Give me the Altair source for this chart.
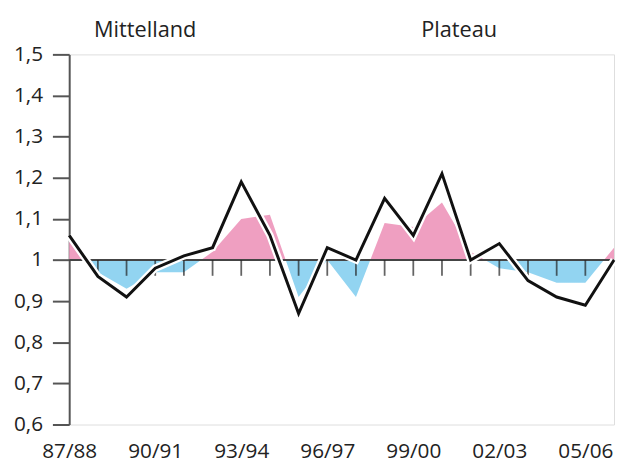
import altair as alt
import pandas as pd

seasons = ["87/88", "88/89", "89/90", "90/91", "91/92", "92/93", "93/94", "94/95",
           "95/96", "96/97", "97/98", "98/99", "99/00", "00/01", "01/02", "02/03",
           "03/04", "04/05", "05/06", "06/07"]
line_values = [1.06, 0.96, 0.91, 0.98, 1.01, 1.03, 1.19, 1.06, 0.87, 1.03,
               1.00, 1.15, 1.06, 1.21, 1.00, 1.04, 0.95, 0.91, 0.89, 1.00]
fill_values = [1.05, 0.97, 0.93, 0.97, 0.97, 1.02, 1.10, 1.11, 0.91, 1.00,
               0.91, 1.09, 1.08, 1.14, 1.02, 0.98, 0.97, 0.945, 0.945, 1.03]
label_seasons = seasons[::3]
y_ticks = [0.6, 0.7, 0.8, 0.9, 1.0, 1.1, 1.2, 1.3, 1.4, 1.5]
titles = ["Mittelland", "Plateau"]
title_x = [77, 395]
baseline = 1.0

PINK = "#ef9fc1"
BLUE = "#92d4f1"
AXIS = "#555555"
FONT = "Open Sans"

df = pd.DataFrame({"season": seasons, "line": line_values, "fill": fill_values, "base": baseline})
tick_df = pd.DataFrame({"season": seasons[1:-1], "base": baseline})
title_df = pd.DataFrame({"t": titles, "px": title_x})

top = max(max(fill_values), baseline)
bot = min(min(fill_values), baseline)
off = (top - baseline) / (top - bot)

x = alt.X("season:N", sort=seasons,
          scale=alt.Scale(type="point", padding=0),
          axis=alt.Axis(values=label_seasons, title=None, domain=False, ticks=False,
                        labelAngle=0, labelFontSize=21, labelFont=FONT, labelColor="#222",
                        labelPadding=16))
yscale = alt.Scale(domain=[0.6, 1.5], nice=False, zero=False)
y_axis = alt.Axis(values=y_ticks, title=None, grid=False, tickSize=17, tickWidth=2,
                  tickColor=AXIS, domainColor=AXIS, domainWidth=2,
                  labelExpr="replace(format(datum.value, '.1~f'), '.', ',')",
                  labelFontSize=21, labelFont=FONT, labelColor="#222", labelPadding=10)

area = alt.Chart(df).mark_area(
    color=alt.LinearGradient(
        gradient="linear", x1=0, x2=0, y1=0, y2=1,
        stops=[alt.GradientStop(color=PINK, offset=0),
               alt.GradientStop(color=PINK, offset=off),
               alt.GradientStop(color=BLUE, offset=off),
               alt.GradientStop(color=BLUE, offset=1)]),
    opacity=1
).encode(x=x, y=alt.Y("fill:Q", scale=yscale, axis=y_axis), y2="base:Q")

base_rule = alt.Chart(df).mark_rule(color="#444", strokeWidth=2).encode(
    y=alt.Y("mean(base):Q", scale=yscale))

ticks = alt.Chart(tick_df).mark_tick(orient="vertical", size=16, thickness=1.8,
                                     color="#222", yOffset=8).encode(
    x=alt.X("season:N", sort=seasons), y=alt.Y("base:Q", scale=yscale))

halo = alt.Chart(df).mark_line(color="white", strokeWidth=7.5, strokeJoin="miter").encode(
    x=alt.X("season:N", sort=seasons), y=alt.Y("line:Q", scale=yscale))
line = alt.Chart(df).mark_line(color="#111", strokeWidth=3, strokeJoin="miter").encode(
    x=alt.X("season:N", sort=seasons), y=alt.Y("line:Q", scale=yscale))

title_text = alt.Chart(title_df).mark_text(fontSize=22, font=FONT, color="#222",
                                           baseline="middle", align="center").encode(
    x=alt.X("px:Q", scale=None), y=alt.value(-25), text="t:N")

chart = alt.layer(area, base_rule, ticks, halo, line, title_text).properties(
    width=552, height=375,
    autosize=alt.AutoSizeParams(type="none"),
    padding={"left": 62, "top": 44, "right": 2, "bottom": 36},
).configure_view(stroke=AXIS, strokeWidth=2).configure(background="white")

chart.save("out.html", embed_options={"renderer": "svg", "actions": False})
